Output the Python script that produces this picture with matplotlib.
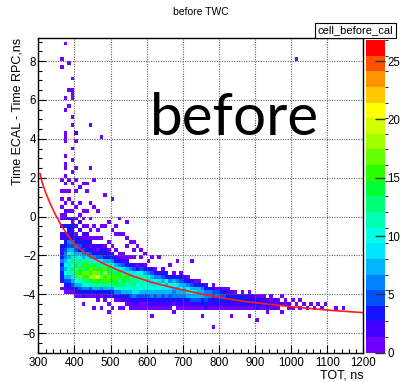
import numpy as np
import matplotlib
matplotlib.use("Agg")
import matplotlib.pyplot as plt
from matplotlib.colors import ListedColormap, BoundaryNorm
from matplotlib.ticker import MultipleLocator, FuncFormatter

# ---------------- data ----------------
title = "before TWC"
hist_name = "cell_before_cal"
x_label = "TOT, ns"
y_label = "Time ECAL - Time RPC,ns"
big_text = "before"

# histogram binning
x_min, x_max, x_bin = 300, 1200, 10
y_min, y_max, y_bin = -7.0, 9.2, 0.2

# dense band: one string per 10-ns column starting at x = 360 ns,
# characters run downward from y = 2.0 in 0.2 ns steps ('.'=0, 1-9, a=10 ... p=25)
band_x0 = 360
band_y_top = 2.0
band_start = [0] * 55 + [30] * 24
band_cells = [
    "1..1.1.1.1" "1.2.22.324" "4645432.1.",
    ".1.1..1.21" "2.3.324356" "68a7a85321",
    "1..1.1..1." "2.3424657a" "8b9cb75421",
    ".1....1.1." "2132436579" "bdaec97531",
    "1..1...1.." "1.2.134658" "9cebfca742" "1",
    "..1...1..1" ".2.2.23547" "adbgeha853" "1",
    ".1......1." "1.1.213456" "8bfdhfcb64" "2.1",
    ".1.1....1." "..1.213246" "9cgehgda63" "1",
    "......1..." "1..1.12135" "7bdhfieb53" "1",
    "1......1.." "..1..1.224" "6aeghifc73" "1..1",
    "........1." "...1.1.213" "5adfhjed84" "21",
    ".........." "..1..1.234" "59bgdhfb63" "1..1",
    "....1....." "..1....123" "48cfigfd74" "21",
    ".........." ".1....1.13" "47bedhgc84" "2.1.1",
    ".....1...." "...1...1.2" "36adfgec74" "2..1",
    ".........." "..1.1...1." "247cdgfea6" "31",
    ".........." "1...1....1" "136aegcda6" "31.1",
    ".........." "....1....1" "1259cfedb7" "42.1",
    ".........." ".1...1.1.." "1248bedca7" "421",
    ".........." "......1..." "1.36bcfcb8" "5311",
    ".........." "......1.1." "1.259dbdc9" "6321",
    ".........." ".......1.." "..14acdab9" "5321",
    ".........." "........1." "1.25acbca8" "5211",
    ".........." ".........1" "..147bcab8" "5311",
    ".........." ".........." ".1.36b9ca8" "5321",
    ".........." ".........." "1..258c9a7" "6321.1",
    ".........." ".........." "...146a9b7" "5321",
    ".........." ".........." "1...269ba8" "6421",
    ".........." ".........." "...1358a97" "5321",
    ".........." ".........." "....24a897" "6321",
    ".........." ".........." "..1..36a97" "5321",
    ".........." ".........." "....148a86" "631.1",
    ".........." ".........." ".1...26987" "6421",
    ".........." ".........." "....1358a7" "6321",
    ".........." ".........." ".....24887" "6421",
    ".........." ".........." ".....136a9" "7421",
    ".........." ".........." ".1....258a" "8521",
    ".........." ".........." "......1479" "8531",
    ".........." ".........." "......1378" "7521",
    ".........." ".........." ".......367" "7431.1",
    ".........." ".........." ".......246" "6532",
    ".........." ".........." "........36" "6421",
    ".........." ".........." ".......125" "5421....1",
    ".........." ".........." "........15" "6431",
    ".........." ".........." "........24" "5321",
    ".........." ".........." "........13" "5421",
    ".........." ".........." "........12" "4431",
    ".........." ".........." ".........2" "4421.1",
    ".........." ".........." ".........1" "4321",
    ".........." ".........." ".........." "3421",
    ".........." ".........." ".........1" "3431",
    ".........." ".........." ".........." "2331",
    ".........." ".........." ".........1" "2321.1",
    ".........." ".........." ".........." "2231",
    ".........." ".........." ".........." "1332..1",
    "1231", "1221", ".2321", "1121", ".212", ".121", "1.2.1", ".11.",
    "..21", ".1.1", "..1", ".1.1", "..1", "...1", "..1", "...1",
    "..1", "...1", "..1", "", "", "...1", "", "...1",
]

# isolated entries outside the band (ns, ns)
out_x = [374, 365, 381, 365, 390, 381, 390, 390, 390, 372, 381, 372, 390, 397,
         441, 372, 372, 403, 407, 475, 379, 400, 390, 372, 390, 372, 372, 392,
         402, 441, 372, 1011]
out_y = [8.8, 8.0, 7.9, 7.7, 7.2, 6.5, 6.55, 6.3, 6.1, 6.0, 5.65, 5.5, 5.2, 4.8,
         4.67, 4.27, 4.13, 4.35, 4.35, 4.2, 3.93, 3.95, 3.55, 3.2, 2.95, 2.7, 2.45, 2.38,
         2.58, 2.58, 2.2, 8.0]

# red fit curve
fit_x = [305, 310, 320, 332, 346, 365, 385, 405, 438, 476, 512, 560, 609, 650,
         692, 740, 785, 830, 877, 925, 969, 1030, 1108, 1200]
fit_y = [2.2, 1.8, 1.25, 0.7, 0.15, -0.5, -1.05, -1.5, -2.0, -2.38, -2.68, -3.05,
         -3.35, -3.55, -3.74, -3.93, -4.1, -4.25, -4.38, -4.48, -4.57, -4.69, -4.82, -4.94]

z_max = 26.8
n_levels = 20
palette = ['#7000ff', '#4400ff', '#1414ff', '#0050ff', '#0082ff', '#00b4ff',
           '#00e6ff', '#00ffe6', '#00ffb4', '#00ff78', '#00ff32', '#28ff00',
           '#64ff00', '#a0ff00', '#d2ff00', '#ffff00', '#ffc800', '#ff9600',
           '#ff5000', '#ff0000']
cbar_ticks = [0, 5, 10, 15, 20, 25]

# ---------------- build histogram ----------------
x_edges = np.arange(x_min, x_max + x_bin / 2, x_bin)
n_y = int(round((y_max - y_min) / y_bin))
y_edges = y_min + y_bin * np.arange(n_y + 1)
H = np.zeros((len(x_edges) - 1, n_y))
code = '.123456789abcdefghijklmnop'
top_bin = int(round((band_y_top - y_bin - y_min) / y_bin))
x0_bin = int(round((band_x0 - x_min) / x_bin))
for c, (s0, cells) in enumerate(zip(band_start, band_cells)):
    for k, ch in enumerate(cells):
        H[x0_bin + c, top_bin - s0 - k] += code.index(ch)
H_out, _, _ = np.histogram2d(out_x, out_y, bins=[x_edges, y_edges])
H += H_out
Hm = np.ma.masked_less_equal(H.T, 0)

# ---------------- figure ----------------
W, Hpx = 408, 382
fig = plt.figure(figsize=(W / 100, Hpx / 100), dpi=100)
fig.patch.set_facecolor('white')
font = 'Liberation Sans'

ax_l, ax_r, ax_t, ax_b = 38.3, 363.3, 37.7, 352.7
ax = fig.add_axes([ax_l / W, 1 - ax_b / Hpx, (ax_r - ax_l) / W, (ax_b - ax_t) / Hpx])
cax = fig.add_axes([365.5 / W, 1 - 352.7 / Hpx, 19.5 / W, (352.7 - 40) / Hpx])

cmap = ListedColormap(palette)
norm = BoundaryNorm(np.linspace(0, z_max, n_levels + 1), n_levels)
mesh = ax.pcolormesh(x_edges, y_edges, Hm, cmap=cmap, norm=norm, zorder=1)

ax.plot(fit_x, fit_y, color='#ff1a1a', lw=1.2, zorder=4)

ax.set_xlim(x_min, x_max)
ax.set_ylim(y_min, y_max)
ax.xaxis.set_major_locator(MultipleLocator(100))
ax.xaxis.set_minor_locator(MultipleLocator(20))
ax.yaxis.set_major_locator(MultipleLocator(2))
ax.yaxis.set_minor_locator(MultipleLocator(0.5))
ax.tick_params(which='both', direction='in', top=False, right=False,
               labelsize=8.3, colors='black')
ax.tick_params(which='major', length=5.5, width=0.8)
ax.tick_params(which='minor', length=3, width=0.8)
ax.tick_params(axis='x', pad=3)
ax.tick_params(axis='y', pad=1.5)
ax.yaxis.set_major_formatter(FuncFormatter(lambda v, p: f"{v:g}".replace('-', '\u2212')))
for lab in ax.get_xticklabels() + ax.get_yticklabels():
    lab.set_fontfamily(font)
ax.grid(True, which='major', color='#666666', linestyle=(0, (1, 1.2)), lw=0.8, zorder=3)
ax.set_axisbelow(False)
for sp in ax.spines.values():
    sp.set_linewidth(1.0)
    sp.set_zorder(5)

ax.set_xlabel(x_label, loc='right', fontsize=9, family=font)
ax.xaxis.set_label_coords(1.0, -0.052)
ax.set_ylabel(y_label, loc='top', fontsize=9, family=font)
ax.yaxis.set_label_coords(-0.047, 1.0)

cb = fig.colorbar(mesh, cax=cax, ticks=cbar_ticks)
cb.outline.set_linewidth(0)
cax.tick_params(direction='in', length=7, width=1, colors='#333333', labelsize=8.3,
                labelcolor='black', pad=1.5)
for lab in cax.get_yticklabels():
    lab.set_fontfamily(font)

fig.text(201 / W, 1 - 12 / Hpx, title, ha='center', va='center', fontsize=7.5, family=font)
fig.text(355.5 / W, 1 - 30.5 / Hpx, hist_name, ha='center', va='center', fontsize=8,
         family=font, bbox=dict(facecolor='white', edgecolor='black', lw=0.8,
                                boxstyle='square,pad=0.25'))
fig.text(234 / W, 1 - 135 / Hpx, big_text, ha='center', va='baseline', fontsize=42,
         family='Lato', color='black')

fig.savefig('out.png', dpi=100)
